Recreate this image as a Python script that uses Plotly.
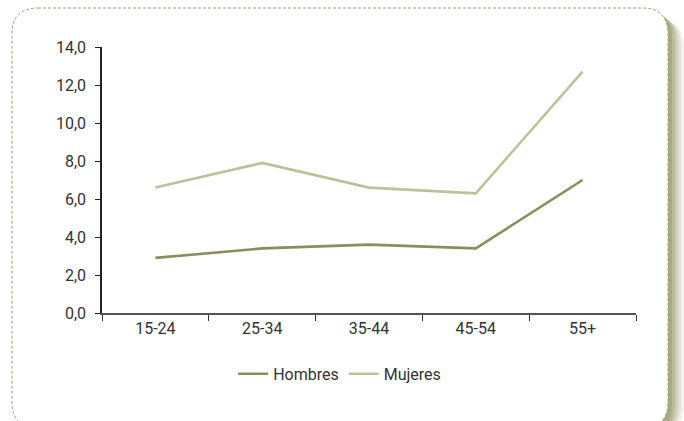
import plotly.graph_objects as go

categories = ["15-24", "25-34", "35-44", "45-54", "55+"]
hombres = [2.9, 3.4, 3.6, 3.4, 7.0]
mujeres = [6.6, 7.9, 6.6, 6.3, 12.7]

W, H = 684, 421
L, R, T, B = 102, 48, 47, 108
PW, PH = W - L - R, H - T - B

def px(x):
    return (x - L) / PW

def py(y):
    return (H - B - y) / PH

def rrect(x0, y0, x1, y1, r):
    pts = []
    pts.append(f"M {px(x0 + r)} {py(y0)}")
    pts.append(f"L {px(x1 - r)} {py(y0)}")
    pts.append(f"Q {px(x1)} {py(y0)} {px(x1)} {py(y0 + r)}")
    pts.append(f"L {px(x1)} {py(y1 - r)}")
    pts.append(f"Q {px(x1)} {py(y1)} {px(x1 - r)} {py(y1)}")
    pts.append(f"L {px(x0 + r)} {py(y1)}")
    pts.append(f"Q {px(x0)} {py(y1)} {px(x0)} {py(y1 - r)}")
    pts.append(f"L {px(x0)} {py(y0 + r)}")
    pts.append(f"Q {px(x0)} {py(y0)} {px(x0 + r)} {py(y0)}")
    return " ".join(pts) + " Z"

FONT = "Roboto, Liberation Sans, Arial, sans-serif"

fig = go.Figure()
fig.add_trace(go.Scatter(x=categories, y=hombres, name="Hombres", mode="lines",
                         line=dict(color="#8c8c5c", width=2.6)))
fig.add_trace(go.Scatter(x=categories, y=mujeres, name="Mujeres", mode="lines",
                         line=dict(color="#bfbf9e", width=2.6)))

shapes = []
# soft shadow on the right side
for off, op in [(16, 0.12), (13, 0.18), (10, 0.25), (7, 0.35), (4, 0.45)]:
    shapes.append(dict(type="path", xref="paper", yref="paper", layer="below",
                       path=rrect(12 + off, 8 + off * 0.8, 668 + off, 432, 26),
                       fillcolor=f"rgba(150,150,105,{op})", line=dict(width=0)))
shapes.append(dict(type="path", xref="paper", yref="paper", layer="below",
                   path=rrect(12, 8, 668, 428, 26), fillcolor="white",
                   line=dict(color="#a0a070", width=1, dash="3px,2px")))

fig.update_layout(
    width=W, height=H,
    margin=dict(l=L, r=R, t=T, b=B),
    paper_bgcolor="white", plot_bgcolor="rgba(0,0,0,0)",
    separators=",.",
    font=dict(family=FONT, size=16, color="#333333"),
    showlegend=True,
    legend=dict(orientation="h", x=0.445, xanchor="center", y=-0.165, yanchor="top",
                font=dict(size=16), itemwidth=30, bgcolor="rgba(0,0,0,0)"),
    shapes=shapes,
    xaxis=dict(range=[-0.5, 4.5], showline=True, linecolor="#555555", linewidth=2,
               ticks="outside", tickson="boundaries", ticklen=6, tickcolor="#333333",
               showgrid=False, zeroline=False, tickfont=dict(size=16)),
    yaxis=dict(range=[0, 14], dtick=2, tickformat=".1f", showline=True, linecolor="#222222",
               linewidth=1.5, ticks="outside", ticklen=5, tickcolor="#222222",
               ticklabelstandoff=6,
               showgrid=False, zeroline=False, tickfont=dict(size=16)),
)

fig.write_html("out.html")
